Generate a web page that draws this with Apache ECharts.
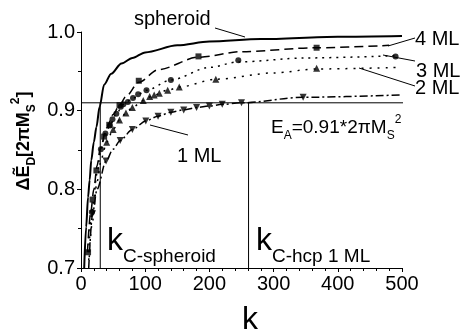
<!DOCTYPE html>
<html>
<head>
<meta charset="utf-8">
<script src="https://cdn.jsdelivr.net/npm/echarts@6/dist/echarts.min.js"></script>
<style>
  html, body { margin: 0; padding: 0; background: #fff; }
  #main { width: 465px; height: 335px; }
</style>
</head>
<body>
<div id="main"></div>
<script>
// ---- data ----
const xTicks = [0, 100, 200, 300, 400, 500]
const yTicks = [0.7, 0.8, 0.9, 1.0]

const eaLevel = 0.91
const kcSpheroid = 30
const kcHcp1ML = 261

// spheroid (solid)
const sphK = [5, 8, 11, 13.5, 16, 20, 24, 29, 36, 47, 63, 80, 100, 150, 200, 280, 400, 500]
const sphV = [0.70, 0.752, 0.79, 0.812, 0.837, 0.86, 0.879, 0.905, 0.933, 0.947, 0.960, 0.967, 0.974, 0.983, 0.988, 0.991, 0.994, 0.995]

// 4 ML (dashed, squares)
const ml4K = [10, 15, 20, 25, 30, 40, 50, 60, 70, 90, 120, 183, 250, 367, 480]
const ml4V = [0.72, 0.77, 0.80, 0.83, 0.852, 0.878, 0.895, 0.907, 0.918, 0.936, 0.952, 0.968, 0.975, 0.980, 0.983]
const ml4MarkK = [11, 18, 24, 36, 44, 60, 90, 183, 367]
const ml4MarkV = [0.72, 0.787, 0.824, 0.867, 0.882, 0.907, 0.938, 0.969, 0.980]

// 3 ML (dotted, circles)
const ml3K = [12, 17, 25, 31, 38, 45, 55, 66, 81, 102, 140, 200, 245, 350, 495]
const ml3V = [0.72, 0.77, 0.82, 0.851, 0.871, 0.881, 0.896, 0.908, 0.916, 0.926, 0.939, 0.955, 0.962, 0.967, 0.970]
const ml3MarkK = [17, 31, 38, 45, 49, 55, 62, 66, 73, 81, 89, 102, 140, 245, 490]
const ml3MarkV = [0.771, 0.851, 0.871, 0.881, 0.889, 0.896, 0.905, 0.908, 0.911, 0.916, 0.921, 0.926, 0.939, 0.964, 0.969]

// 2 ML (dotted, triangles)
const ml2K = [12, 18, 25, 32, 40, 50, 60, 70, 80, 97, 114, 135, 153, 210, 300, 367, 495]
const ml2V = [0.71, 0.76, 0.81, 0.84, 0.86, 0.876, 0.888, 0.897, 0.904, 0.913, 0.920, 0.926, 0.930, 0.940, 0.948, 0.953, 0.955]
const ml2MarkK = [40, 50, 60, 70, 80, 97, 107, 114, 122, 135, 153, 210, 367]
const ml2MarkV = [0.86, 0.876, 0.888, 0.897, 0.904, 0.913, 0.918, 0.920, 0.922, 0.926, 0.930, 0.940, 0.954]

// 1 ML (dash-dot, down triangles)
const ml1K = [12, 18, 25, 39, 50, 61, 80, 101, 120, 140, 160, 180, 200, 220, 250, 346, 500]
const ml1V = [0.70, 0.769, 0.80, 0.836, 0.851, 0.862, 0.876, 0.887, 0.893, 0.898, 0.901, 0.904, 0.906, 0.908, 0.910, 0.917, 0.920]
const ml1MarkK = [18, 39, 61, 80, 101, 120, 140, 160, 180, 200, 220, 250, 346]
const ml1MarkV = [0.769, 0.836, 0.862, 0.876, 0.887, 0.893, 0.898, 0.901, 0.904, 0.906, 0.908, 0.910, 0.917]

function pairs(ks, vs) {
  return ks.map((k, i) => [k, vs[i]])
}

const FONT = 'Liberation Sans, Arial, Helvetica, sans-serif'

function curve(name, ks, vs, width, dash) {
  return {
    name: name,
    type: 'line',
    data: pairs(ks, vs),
    smooth: 0.3,
    smoothMonotone: 'x',
    symbol: 'none',
    lineStyle: { color: '#000', width: width, type: dash },
    z: 3
  }
}

function marks(name, ks, vs, symbol, size, rotate) {
  return {
    name: name,
    type: 'scatter',
    data: pairs(ks, vs),
    symbol: symbol,
    symbolSize: size,
    symbolRotate: rotate || 0,
    itemStyle: { color: '#000' },
    z: 4
  }
}

function straight(pts, clip) {
  return {
    type: 'line',
    data: pts,
    symbol: 'none',
    clip: clip,
    lineStyle: { color: '#000', width: 1 },
    z: 2
  }
}

function leader(x1, y1, x2, y2) {
  return { type: 'line', shape: { x1: x1, y1: y1, x2: x2, y2: y2 }, style: { stroke: '#000', lineWidth: 1 } }
}

function label(x, y, text, size) {
  return { type: 'text', x: x, y: y, style: { text: text, font: size + 'px ' + FONT, fill: '#000', align: 'left', verticalAlign: 'middle' } }
}

const chart = echarts.init(document.getElementById('main'))

const option = {
  animation: false,
  backgroundColor: '#fff',
  textStyle: { fontFamily: FONT },
  grid: { left: 81, right: 63, top: 32, bottom: 67, outerBoundsMode: 'none' },
  xAxis: {
    type: 'value',
    min: xTicks[0],
    max: xTicks[xTicks.length - 1],
    interval: 100,
    axisLine: { lineStyle: { color: '#000', width: 1 } },
    axisTick: { inside: false, length: 4, lineStyle: { color: '#000' } },
    minorTick: { show: true, splitNumber: 5, length: 3, lineStyle: { color: '#000' } },
    splitLine: { show: false },
    axisLabel: { color: '#000', fontSize: 20, margin: 6, fontFamily: FONT }
  },
  yAxis: {
    type: 'value',
    min: yTicks[0],
    max: yTicks[yTicks.length - 1],
    interval: 0.1,
    axisLine: { show: true, lineStyle: { color: '#000', width: 1 } },
    axisTick: { show: true, inside: false, length: 4, lineStyle: { color: '#000' } },
    minorTick: { show: true, splitNumber: 2, length: 3, lineStyle: { color: '#000' } },
    splitLine: { show: false },
    axisLabel: { color: '#000', fontSize: 20, margin: 6, fontFamily: FONT, formatter: v => v.toFixed(1) }
  },
  series: [
    straight([[0, eaLevel], [512, eaLevel]], false),
    straight([[kcSpheroid, 0.7], [kcSpheroid, eaLevel]], true),
    straight([[kcHcp1ML, 0.7], [kcHcp1ML, eaLevel]], true),
    curve('spheroid', sphK, sphV, 2, 'solid'),
    curve('4 ML', ml4K, ml4V, 1.5, [9, 5]),
    curve('3 ML', ml3K, ml3V, 1.5, [2, 5]),
    curve('2 ML', ml2K, ml2V, 1.5, [2, 6]),
    curve('1 ML', ml1K, ml1V, 1.5, [8, 3, 2, 3]),
    marks('4 ML', ml4MarkK, ml4MarkV, 'rect', 6),
    marks('3 ML', ml3MarkK, ml3MarkV, 'circle', 6),
    marks('2 ML', ml2MarkK, ml2MarkV, 'triangle', 7),
    marks('1 ML', ml1MarkK, ml1MarkV, 'triangle', 7, 180)
  ],
  graphic: [
    leader(215, 28, 245, 37),
    leader(388, 46, 415, 38),
    leader(383, 55, 415, 61),
    leader(359, 68, 415, 86),
    leader(150, 125, 188, 135),
    label(134, 19, 'spheroid', 20),
    label(415, 39, '4 ML', 20),
    label(416, 71, '3 ML', 20),
    label(415, 88, '2 ML', 20),
    label(177, 156, '1 ML', 20),
    label(107, 241, 'k', 32),
    label(123, 257, 'C-spheroid', 19),
    label(256, 241, 'k', 32),
    label(272, 257, 'C-hcp 1 ML', 19),
    {
      type: 'text', x: 271, y: 128,
      style: {
        text: '{m|E}{s|A}{m|=0.91*2\u03c0M}{s|S}{p|2}',
        fill: '#000', align: 'left', verticalAlign: 'middle',
        rich: {
          m: { fontSize: 19, fontFamily: FONT, lineHeight: 28, verticalAlign: 'middle' },
          s: { fontSize: 12, fontFamily: FONT, lineHeight: 28, verticalAlign: 'bottom' },
          p: { fontSize: 12, fontFamily: FONT, lineHeight: 28, verticalAlign: 'top' }
        }
      }
    },
    {
      type: 'text', x: 24, y: 141, rotation: Math.PI / 2,
      style: {
        text: '{m|\u0394\u1ebc}{s|D}{m|[2\u03c0M}{s|S}{p|2}{m|]}',
        fill: '#000', align: 'center', verticalAlign: 'middle',
        rich: {
          m: { fontSize: 18, fontWeight: 'bold', fontFamily: FONT, lineHeight: 28, verticalAlign: 'middle' },
          s: { fontSize: 12, fontWeight: 'bold', fontFamily: FONT, lineHeight: 28, verticalAlign: 'bottom' },
          p: { fontSize: 12, fontWeight: 'bold', fontFamily: FONT, lineHeight: 28, verticalAlign: 'top' }
        }
      }
    },
    label(242, 320, 'k', 32)
  ]
}

chart.setOption(option)
</script>
</body>
</html>
